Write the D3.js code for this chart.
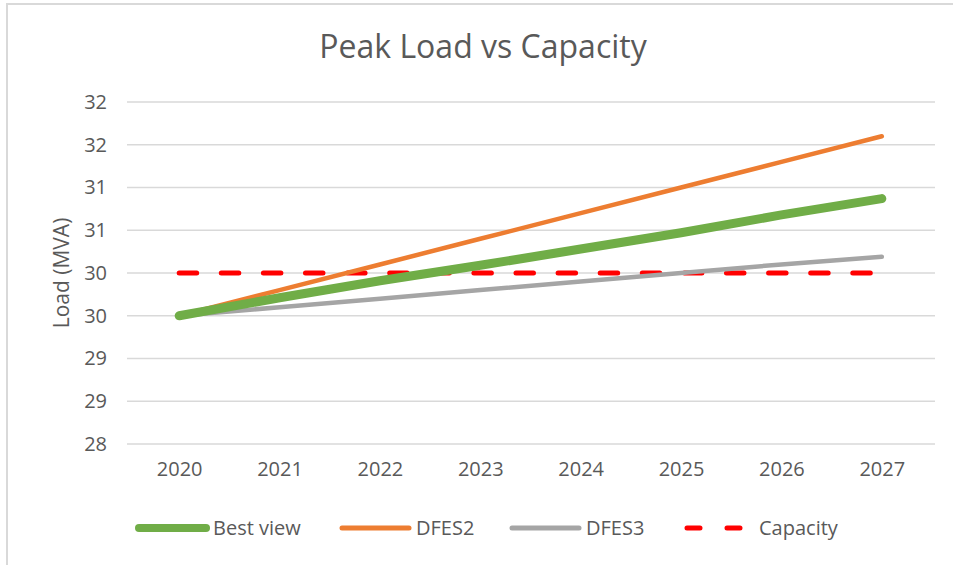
<!DOCTYPE html>
<html lang="en">
  <head>
    <meta charset="UTF-8" />
    <title>Peak Load vs Capacity</title>
    <script src="https://d3js.org/d3.v7.min.js"></script>
    <style>
      body { margin: 0; background: #fff; }
      text { font-family: "Open Sans", sans-serif; fill: #595959; }
    </style>
  </head>
  <body>
    <div id="chart"></div>

    <script>
      // data
      const years = ["2020", "2021", "2022", "2023", "2024", "2025", "2026", "2027"];
      const bestView = [29.5, 29.71, 29.91, 30.09, 30.28, 30.47, 30.68, 30.87];
      const dfes2 = [29.5, 29.8, 30.1, 30.4, 30.7, 31.0, 31.3, 31.6];
      const dfes3 = [29.5, 29.6, 29.7, 29.8, 29.9, 30.0, 30.1, 30.19];
      const capacity = [30, 30, 30, 30, 30, 30, 30, 30];
      const yTicks = [28, 28.5, 29, 29.5, 30, 30.5, 31, 31.5, 32];

      const series = [
        { name: "Best view", values: bestView, color: "#70AD47", width: 9, dash: null },
        { name: "DFES2", values: dfes2, color: "#ED7D31", width: 4.5, dash: null },
        { name: "DFES3", values: dfes3, color: "#A5A5A5", width: 4.5, dash: null },
        { name: "Capacity", values: capacity, color: "#FF0000", width: 5, dash: "17.5,24.6" },
      ];

      const W = 953, H = 565;
      const margin = { top: 102, right: 21, bottom: 121, left: 129 };
      const width = W - margin.left - margin.right,
        height = H - margin.top - margin.bottom;

      const root = d3.select("#chart").append("svg")
        .attr("width", W)
        .attr("height", H);

      // chart area border
      root.append("rect")
        .attr("x", 7).attr("y", 4)
        .attr("width", W + 10).attr("height", H + 10)
        .attr("fill", "none")
        .attr("stroke", "#d9d9d9")
        .attr("stroke-width", 2);

      root.append("text")
        .attr("x", 483).attr("y", 58)
        .attr("text-anchor", "middle")
        .attr("font-size", 32)
        .text("Peak Load vs Capacity");

      const svg = root.append("g")
        .attr("transform", `translate(${margin.left},${margin.top})`);

      const x = d3.scalePoint().domain(years).range([0, width]).padding(0.5);
      const y = d3.scaleLinear().domain([28, 32]).range([height, 0]);

      // gridlines
      svg.append("g")
        .selectAll("line")
        .data(yTicks)
        .join("line")
        .attr("x1", -2).attr("x2", width + 3)
        .attr("y1", (d) => y(d)).attr("y2", (d) => y(d))
        .attr("stroke", "#d9d9d9")
        .attr("stroke-width", 1.3);

      // y axis (Excel shows the half steps rounded)
      const yAxis = svg.append("g")
        .call(d3.axisLeft(y).tickValues(yTicks).tickFormat((d) => Math.round(d)).tickSize(0).tickPadding(22));
      yAxis.select(".domain").remove();
      yAxis.selectAll("text").attr("font-size", 20).style("fill", "#595959")
        .style("font-family", "'Open Sans', sans-serif");

      const xAxis = svg.append("g")
        .attr("transform", `translate(0,${height})`)
        .call(d3.axisBottom(x).tickSize(0).tickPadding(18));
      xAxis.select(".domain").remove();
      xAxis.selectAll("text").attr("font-size", 20).style("fill", "#595959")
        .style("font-family", "'Open Sans', sans-serif");

      root.append("text")
        .attr("transform", "translate(69,273) rotate(-90)")
        .attr("text-anchor", "middle")
        .attr("font-size", 21)
        .text("Load (MVA)");

      const line = d3.line().x((d, i) => x(years[i])).y((d) => y(d));

      // capacity at the back, best view on top
      const order = [series[3], series[2], series[1], series[0]];
      svg.append("g")
        .selectAll("path")
        .data(order)
        .join("path")
        .attr("d", (d) => line(d.values))
        .attr("fill", "none")
        .attr("stroke", (d) => d.color)
        .attr("stroke-width", (d) => d.width)
        .attr("stroke-linecap", "round")
        .attr("stroke-linejoin", "round")
        .attr("stroke-dasharray", (d) => d.dash);

      // legend
      const legendX = [139, 342, 512, 685];
      const legend = root.append("g")
        .selectAll("g")
        .data(series)
        .join("g")
        .attr("transform", (d, i) => `translate(${legendX[i]},528)`);

      legend.append("line")
        .attr("x1", 0).attr("x2", 67)
        .attr("stroke", (d) => d.color)
        .attr("stroke-width", (d) => (d.name === "Best view" ? 8 : 5))
        .attr("stroke-linecap", "round")
        .attr("stroke-dasharray", (d) => (d.dash ? "13,27" : null))
        .attr("transform", (d) => (d.dash ? "translate(2,0)" : null));

      legend.append("text")
        .attr("x", 74)
        .attr("dy", "0.35em")
        .attr("font-size", 20)
        .text((d) => d.name);
    </script>
  </body>
</html>
